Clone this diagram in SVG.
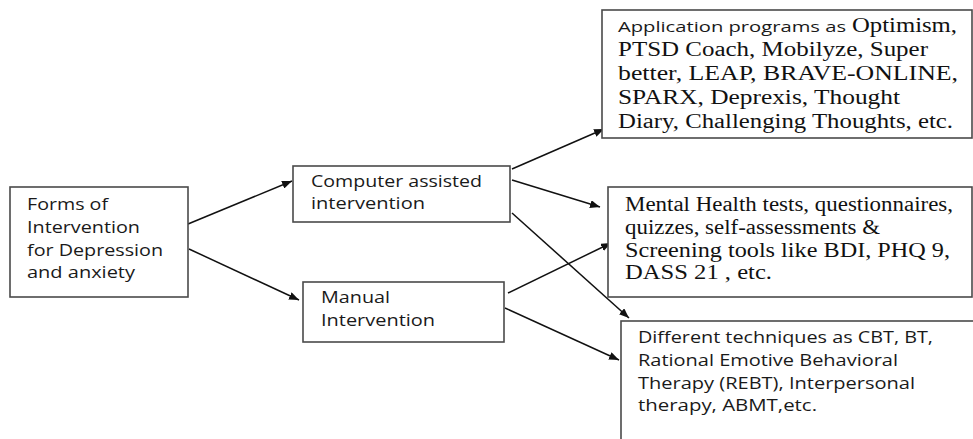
<svg xmlns="http://www.w3.org/2000/svg" width="973" height="439" viewBox="0 0 973 439">
<style>
.box{fill:#fff;stroke:#4a4a4a;stroke-width:1.6}
.sans{font-family:"Open Sans","Noto Sans","DejaVu Sans",sans-serif;font-size:16px;fill:#1a1a1a}
.sm{font-size:15px}
.serif{font-family:"Liberation Serif","Times New Roman",serif;font-size:20px;fill:#111}
.ln{stroke:#111;stroke-width:1.5;fill:none;marker-end:url(#ah)}
</style>
<defs>
<marker id="ah" viewBox="0 0 10 8" refX="10" refY="4" markerWidth="10" markerHeight="8" markerUnits="userSpaceOnUse" orient="auto">
<path d="M0,0 L10,4 L0,8 z" fill="#111"/>
</marker>
</defs>
<rect width="973" height="439" fill="#fff"/>
<g id="connectors">
<line class="ln" x1="188" y1="224" x2="292" y2="181"/>
<line class="ln" x1="189" y1="249" x2="299" y2="300"/>
<line class="ln" x1="512" y1="169" x2="604" y2="129"/>
<line class="ln" x1="512" y1="180" x2="600" y2="207"/>
<line class="ln" x1="512" y1="213" x2="629" y2="318"/>
<line class="ln" x1="508" y1="293" x2="611" y2="243"/>
<line class="ln" x1="505" y1="308" x2="619" y2="360"/>
</g>
<g id="forms">
<rect class="box" x="10" y="187" width="178" height="110"/>
<text class="sans" x="27" y="210" textLength="81" lengthAdjust="spacingAndGlyphs">Forms of</text>
<text class="sans" x="27" y="233" textLength="113" lengthAdjust="spacingAndGlyphs">Intervention</text>
<text class="sans" x="27" y="256" textLength="136" lengthAdjust="spacingAndGlyphs">for Depression</text>
<text class="sans" x="27" y="278" textLength="108" lengthAdjust="spacingAndGlyphs">and anxiety</text>
</g>
<g id="computer">
<rect class="box" x="293" y="166" width="217" height="56"/>
<text class="sans" x="311" y="187" textLength="171" lengthAdjust="spacingAndGlyphs">Computer assisted</text>
<text class="sans" x="311" y="209" textLength="114" lengthAdjust="spacingAndGlyphs">intervention</text>
</g>
<g id="manual">
<rect class="box" x="303" y="282" width="201" height="60"/>
<text class="sans" x="321" y="303" textLength="69" lengthAdjust="spacingAndGlyphs">Manual</text>
<text class="sans" x="321" y="326" textLength="114" lengthAdjust="spacingAndGlyphs">Intervention</text>
</g>
<g id="apps">
<rect class="box" x="602" y="10" width="370" height="128"/>
<text x="618" y="32"><tspan class="sans sm" textLength="228" lengthAdjust="spacingAndGlyphs">Application programs as</tspan><tspan class="serif" x="852" textLength="105" lengthAdjust="spacingAndGlyphs">Optimism,</tspan></text>
<text class="serif" x="618" y="56" textLength="310" lengthAdjust="spacingAndGlyphs">PTSD Coach, Mobilyze, Super</text>
<text class="serif" x="618" y="80" textLength="340" lengthAdjust="spacingAndGlyphs">better, LEAP, BRAVE-ONLINE,</text>
<text class="serif" x="618" y="104" textLength="282" lengthAdjust="spacingAndGlyphs">SPARX, Deprexis, Thought</text>
<text class="serif" x="618" y="128" textLength="335" lengthAdjust="spacingAndGlyphs">Diary, Challenging Thoughts, etc.</text>
</g>
<g id="tests">
<rect class="box" x="608" y="187" width="364" height="110"/>
<text class="serif" x="625" y="211" textLength="328" lengthAdjust="spacingAndGlyphs">Mental Health tests, questionnaires,</text>
<text class="serif" x="625" y="234" textLength="255" lengthAdjust="spacingAndGlyphs">quizzes, self-assessments &amp;</text>
<text class="serif" x="625" y="257" textLength="325" lengthAdjust="spacingAndGlyphs">Screening tools like BDI, PHQ 9,</text>
<text class="serif" x="625" y="279" textLength="147" lengthAdjust="spacingAndGlyphs">DASS 21 , etc.</text>
</g>
<g id="techniques">
<rect class="box" x="621" y="321" width="360" height="130"/>
<text class="sans" x="638" y="343" textLength="295" lengthAdjust="spacingAndGlyphs">Different techniques as CBT, BT,</text>
<text class="sans" x="638" y="366" textLength="260" lengthAdjust="spacingAndGlyphs">Rational Emotive Behavioral</text>
<text class="sans" x="638" y="389" textLength="277" lengthAdjust="spacingAndGlyphs">Therapy (REBT), Interpersonal</text>
<text class="sans" x="638" y="411" textLength="179" lengthAdjust="spacingAndGlyphs">therapy, ABMT,etc.</text>
</g>
</svg>
